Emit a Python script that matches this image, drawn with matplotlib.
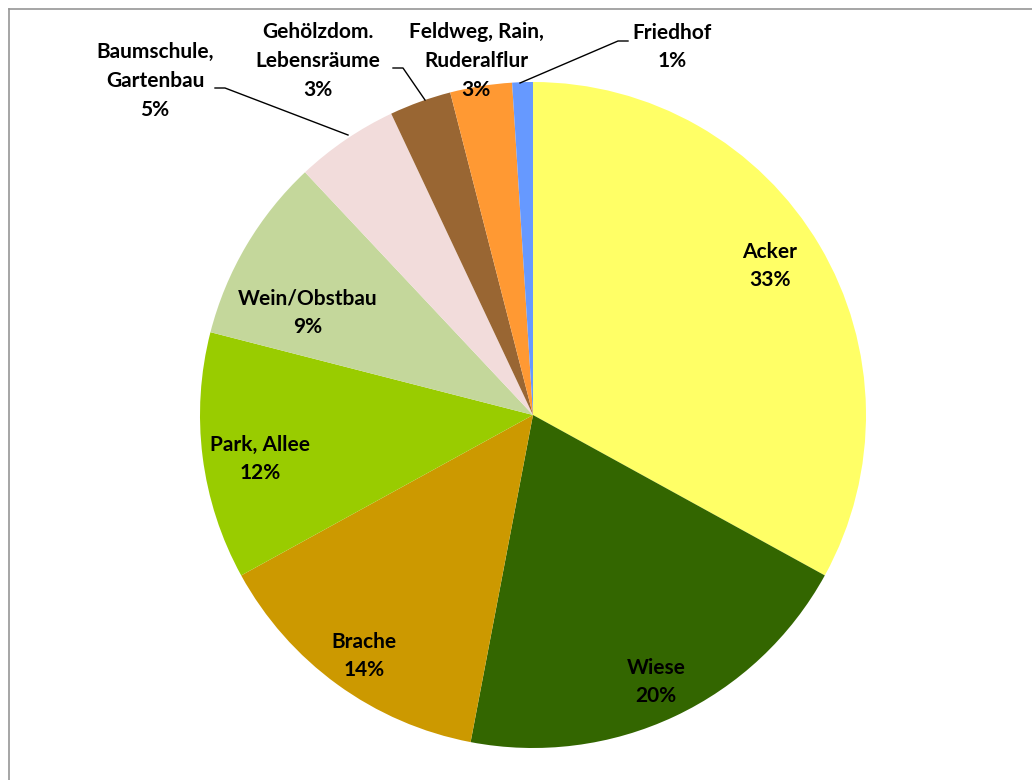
import matplotlib
matplotlib.use("Agg")
from matplotlib import pyplot as plt
from matplotlib.lines import Line2D

# land use categories, clockwise from 12 o'clock
categories = ["Acker", "Wiese", "Brache", "Park, Allee", "Wein/Obstbau",
              "Baumschule,\nGartenbau", "Gehölzdom.\nLebensräume",
              "Feldweg, Rain,\nRuderalflur", "Friedhof"]
shares = [33, 20, 14, 12, 9, 5, 3, 3, 1]
colors = ["#FFFF66", "#336600", "#CC9900", "#99CC00", "#C4D79B",
          "#F2DCDB", "#996633", "#FF9933", "#6699FF"]

# label centres in pixels (x, y from top) and leader lines for the small slices
label_px = [(770, 266), (656, 682), (364, 656), (260, 459), (308, 313),
            (155, 81), (318, 61), (476, 61), (672, 47)]
leaders = {
    5: [(215, 88), (225, 88), (348, 135)],
    6: [(393, 68), (403, 68), (425, 100)],
    8: [(628, 41), (618, 41), (520, 83)],
}

W, H = 1032, 780
cx, cy, R = 533, 415, 333

plt.rcParams['font.family'] = ['Lato', 'DejaVu Sans']

fig = plt.figure(figsize=(W / 100, H / 100), dpi=100)
ax = fig.add_axes([0, 0, 1, 1])
ax.pie(shares, colors=colors, startangle=90, counterclock=False,
       radius=1, center=(0, 0), wedgeprops=dict(linewidth=0))
ax.set_aspect('auto')
ax.set_xlim(-cx / R, (W - cx) / R)
ax.set_ylim((cy - H) / R, cy / R)
ax.axis('off')


def to_data(px, py):
    return (px - cx) / R, (cy - py) / R


for name, val, (px, py) in zip(categories, shares, label_px):
    x, y = to_data(px, py)
    ax.text(x, y, f"{name}\n{val}%", ha='center', va='center',
            fontsize=15, fontweight='bold', linespacing=1.55, color='black')

for pts in leaders.values():
    xs, ys = zip(*[to_data(px, py) for px, py in pts])
    ax.plot(xs, ys, color='black', lw=1.0)

# chart area border (top and left edges visible)
fig.add_artist(Line2D([8.5 / W, 1], [1 - 8.5 / H, 1 - 8.5 / H],
                      transform=fig.transFigure, color='#969696', lw=1.2))
fig.add_artist(Line2D([8.5 / W, 8.5 / W], [0, 1 - 8.5 / H],
                      transform=fig.transFigure, color='#969696', lw=1.2))

fig.savefig("out.png", dpi=100, facecolor='white')
